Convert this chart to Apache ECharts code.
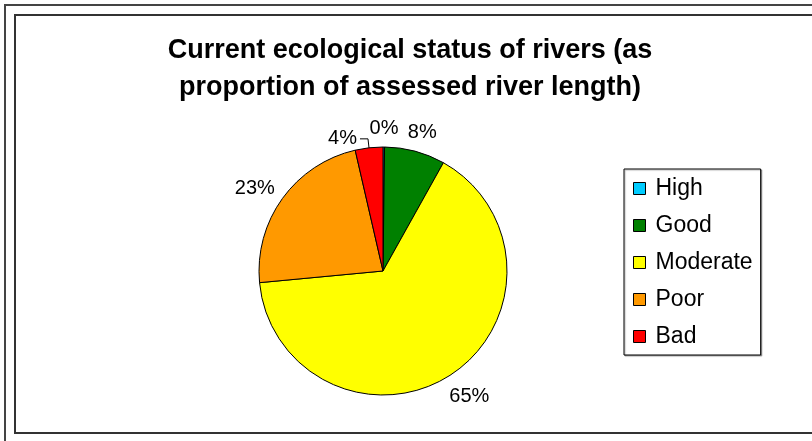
<!DOCTYPE html>
<html><head><meta charset="utf-8">
<script src="https://cdn.jsdelivr.net/npm/echarts@6/dist/echarts.min.js"></script>
<style>html,body{margin:0;padding:0;background:#fff}#c{width:812px;height:441px}</style>
</head><body><div id="c"></div>
<script>
const categories = ['High', 'Good', 'Moderate', 'Poor', 'Bad'];
const values = [0.2, 7.9, 65.4, 22.9, 3.6];
const colors = ['#00CCFF', '#008000', '#FFFF00', '#FF9900', '#FF0000'];
const titleLines = ['Current ecological status of rivers (as', 'proportion of assessed river length)'];

const CX = 383, CY = 271, R = 124;
const total = values.reduce((a, b) => a + b, 0);

const chart = echarts.init(document.getElementById('c'), null, {renderer: 'canvas'});
chart.setOption({
  backgroundColor: '#fff',
  animation: false,
  color: colors,
  graphic: [
    {type: 'rect', z: -10, shape: {x: 5, y: 5, width: 900, height: 500}, style: {fill: 'none', stroke: '#444', lineWidth: 2}},
    {type: 'rect', z: -10, shape: {x: 15, y: 15, width: 900, height: 418}, style: {fill: 'none', stroke: '#333', lineWidth: 2}}
  ],
  title: {
    text: titleLines.join('\n'),
    left: 410, top: 32, textAlign: 'center', padding: 0,
    textStyle: {fontFamily: 'Liberation Sans, Arial, sans-serif', fontSize: 27, fontWeight: 'bold', color: '#000', lineHeight: 37}
  },
  legend: {
    orient: 'vertical', left: 624, top: 169,
    data: categories, icon: 'rect', itemWidth: 12, itemHeight: 12, itemGap: 14,
    padding: [8, 8, 7, 9], borderColor: '#000', borderWidth: 1, backgroundColor: '#fff',
    shadowColor: 'rgba(0,0,0,0.3)', shadowOffsetX: 1, shadowOffsetY: 1, shadowBlur: 1,
    selectedMode: false,
    itemStyle: {borderColor: '#000', borderWidth: 1},
    textStyle: {fontFamily: 'Liberation Sans, Arial, sans-serif', fontSize: 23, color: '#000', lineHeight: 23, padding: [0, 0, 0, 5]}
  },
  series: [{
    type: 'pie',
    center: [CX, CY], radius: R,
    startAngle: 90, clockwise: true,
    avoidLabelOverlap: false,
    itemStyle: {borderColor: '#000', borderWidth: 1},
    label: {
      show: true, position: 'outside',
      fontFamily: 'Liberation Sans, Arial, sans-serif', fontSize: 20, lineHeight: 20, color: '#000',
      formatter: p => Math.round(p.percent) + '%',
      distanceToLabelLine: 3
    },
    labelLine: {show: false, length: 9, length2: 8, smooth: false, lineStyle: {color: '#000', width: 1}},
    labelLayout: function (p) {
      const i = p.dataIndex;
      if (categories[i] === 'Bad') return null;
      let cum = 0;
      for (let k = 0; k < i; k++) cum += values[k];
      const mid = (cum + values[i] / 2) / total * 2 * Math.PI;
      const dx = Math.sin(mid), dy = -Math.cos(mid);
      const w = p.labelRect.width, h = p.labelRect.height;
      return {x: CX + dx * (R + 12) + dx * w / 2 + 2 * dx, y: CY + dy * (R + 12) + dy * h / 2 + 3, align: 'center', verticalAlign: 'middle'};
    },
    emphasis: {disabled: true},
    data: categories.map((c, i) => {
      const d = {name: c, value: values[i]};
      if (c === 'Bad') d.labelLine = {show: true};
      return d;
    })
  }]
});
</script></body></html>
